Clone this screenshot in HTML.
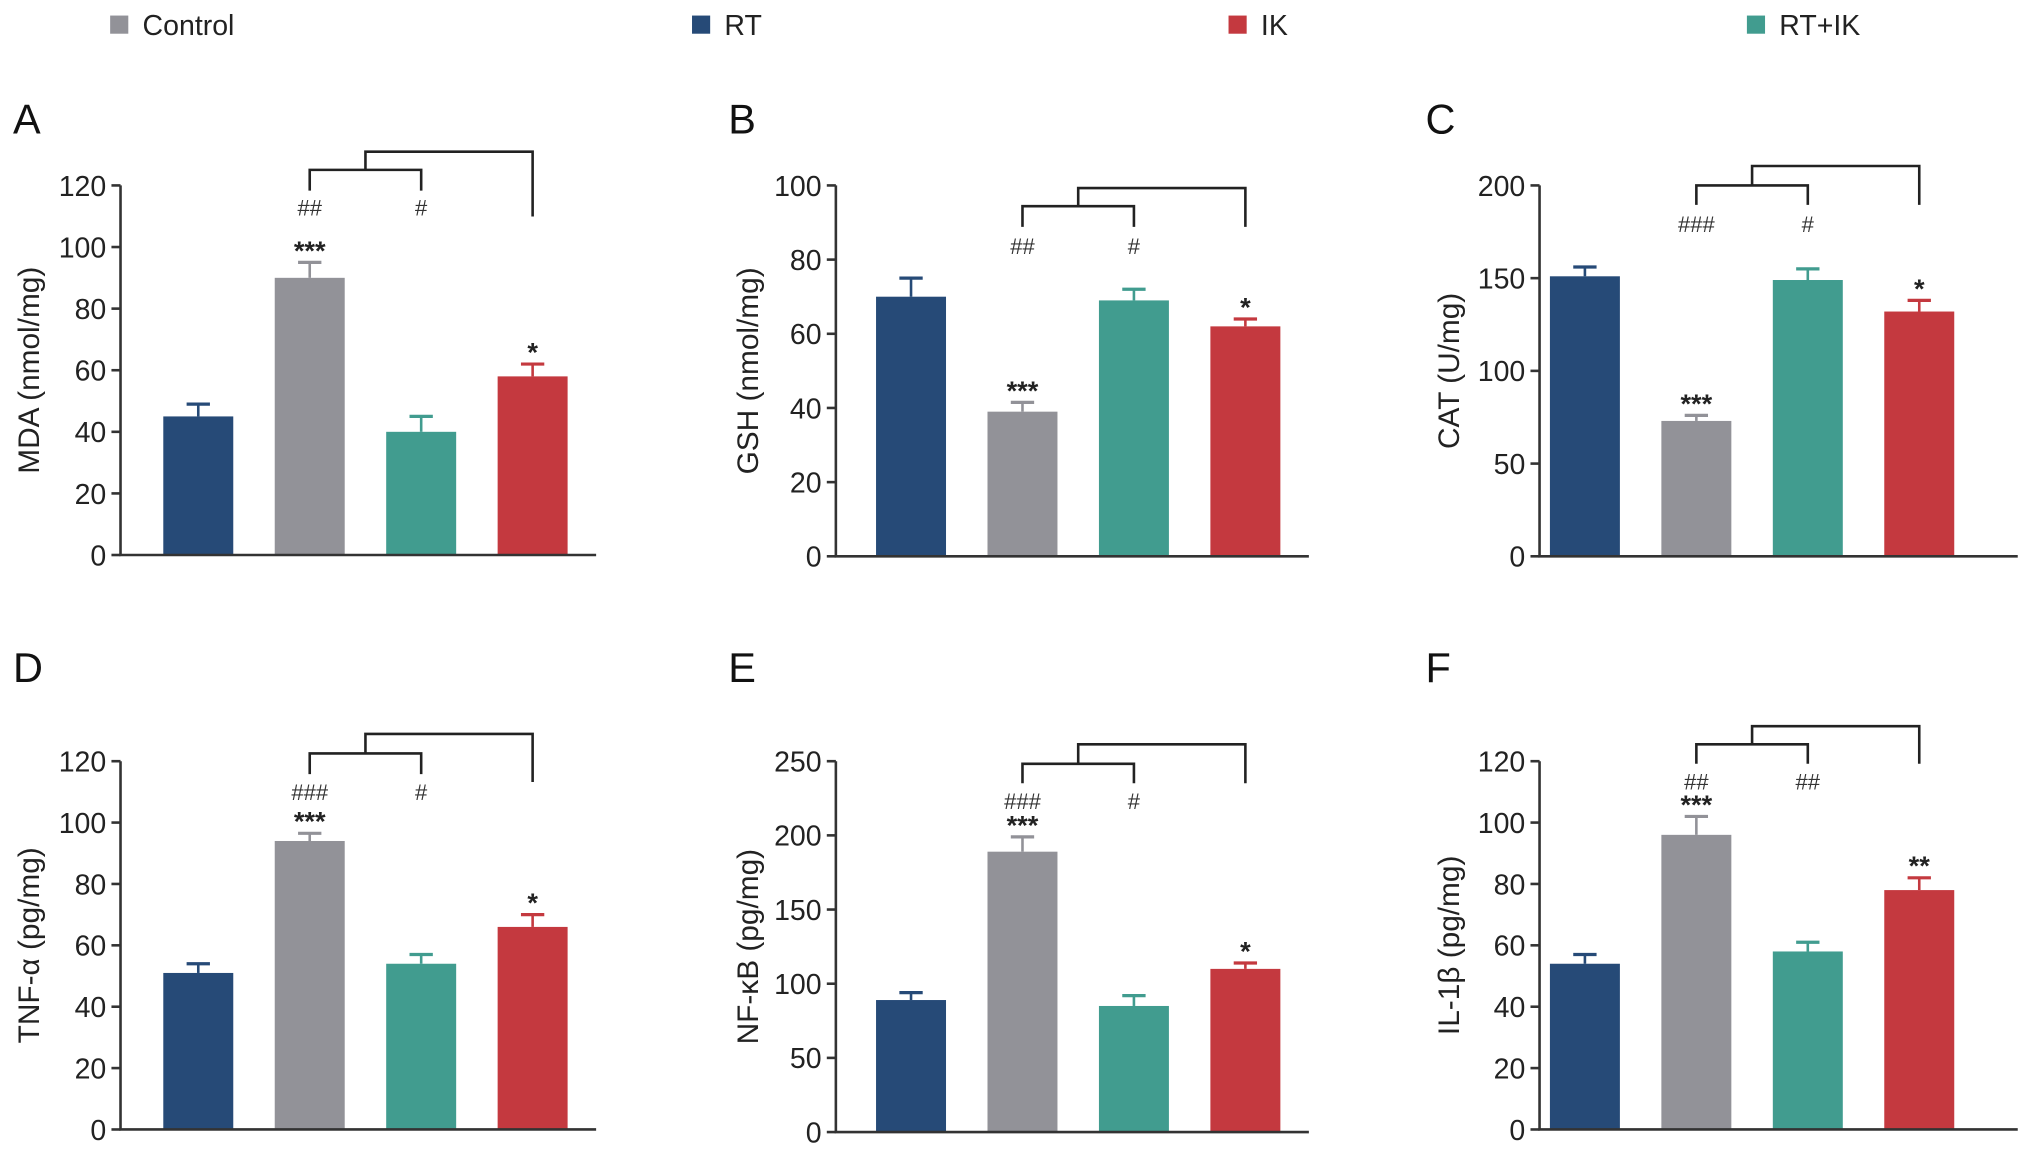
<!DOCTYPE html>
<html><head><meta charset="utf-8"><style>
html,body{margin:0;padding:0;background:#fff;}
svg{display:block;font-family:"Liberation Sans",sans-serif;}
</style></head><body>
<svg id="chart" width="2032" height="1158" viewBox="0 0 1568 893" preserveAspectRatio="none"></svg>
<script>
const groups = ["RT","Control","RT+IK","IK"];
const colors = ["#264a77","#929298","#419c8f","#c4393f"];
const legendLabels = ["Control","RT","IK","RT+IK"];
const legendColors = ["#929298","#264a77","#c4393f","#419c8f"];
const panelLetters = ["A","B","C","D","E","F"];
const yTitles = ["MDA (nmol/mg)","GSH (nmol/mg)","CAT (U/mg)","TNF-\u03b1 (pg/mg)","NF-\u03baB (pg/mg)","IL-1\u03b2 (pg/mg)"];
const yMax = [120,100,200,120,250,120];
const yStep = [20,20,50,20,50,20];
const valA = [45,90,40,58];   const errA = [49,95,45,62];
const valB = [70,39,69,62];   const errB = [75,41.5,72,64];
const valC = [151,73,149,132]; const errC = [156,76,155,138];
const valD = [51,94,54,66];   const errD = [54,96.5,57,70];
const valE = [89,189,85,110]; const errE = [94,199,92,114];
const valF = [54,96,58,78];   const errF = [57,102,61,82];
const starsA = ["","***","","*"]; const hashA = ["","##","#",""];
const starsB = ["","***","","*"]; const hashB = ["","##","#",""];
const starsC = ["","***","","*"]; const hashC = ["","###","#",""];
const starsD = ["","***","","*"]; const hashD = ["","###","#",""];
const starsE = ["","***","","*"]; const hashE = ["","###","#",""];
const starsF = ["","***","","**"]; const hashF = ["","##","##",""];

const vals=[valA,valB,valC,valD,valE,valF], errs=[errA,errB,errC,errD,errE,errF];
const stars=[starsA,starsB,starsC,starsD,starsE,starsF], hashes=[hashA,hashB,hashC,hashD,hashE,hashF];
const layout=[
 {ax:93,bx:126,top:143,bot:428,xend:460,lx:10,ly:103,tx:22,brS:131,brM:117,legS:147,legM:167,hy:166},
 {ax:645,bx:676,top:143,bot:429,xend:1010,lx:562,ly:103,tx:577,brS:159,brM:145,legS:175,legM:175,hy:196},
 {ax:1188,bx:1196,top:143,bot:429,xend:1557,lx:1100,ly:103,tx:1118,brS:143,brM:128,legS:158,legM:158,hy:179},
 {ax:93,bx:126,top:587,bot:871,xend:460,lx:10,ly:526,tx:22,brS:581,brM:566,legS:597,legM:603,hy:617},
 {ax:645,bx:676,top:587,bot:873,xend:1010,lx:562,ly:526,tx:577,brS:589,brM:574,legS:604,legM:604,hy:624},
 {ax:1188,bx:1196,top:587,bot:871,xend:1557,lx:1100,ly:526,tx:1118,brS:574,brM:560,legS:589,legM:589,hy:609}
];
const NS="http://www.w3.org/2000/svg";
const svg=document.getElementById('chart');
function mk(tag,attrs,parent,text){const e=document.createElementNS(NS,tag);for(const k in attrs)e.setAttribute(k,attrs[k]);if(text!==undefined)e.textContent=text;(parent||svg).appendChild(e);return e;}

const legendX=[85,534,948,1348];
legendLabels.forEach((l,i)=>{
  const g=mk('g',{});
  
  
  mk('rect',{x:legendX[i],y:12,width:14,height:14,fill:legendColors[i]},g);
  mk('text',{x:legendX[i]+25,y:27,'font-size':22,fill:'#222'},g,l);
});

layout.forEach((L,p)=>{
  const g=mk('g',{});
  
  
  const y=v=>L.bot-(v/yMax[p])*(L.bot-L.top);
  const bw=54, gap=86;
  const bxf=i=>L.bx+i*gap;
  const lt=mk('text',{x:L.lx,y:L.ly,'font-size':32,fill:'#111'},g,panelLetters[p]);
  
  
  vals[p].forEach((v,i)=>{
    const cx=bxf(i)+bw/2;
    const e=errs[p][i];
    mk('line',{x1:cx,x2:cx,y1:y(v),y2:y(e),stroke:colors[i],'stroke-width':2},g);
    mk('line',{x1:cx-9,x2:cx+9,y1:y(e),y2:y(e),stroke:colors[i],'stroke-width':2.5},g);
    const r=mk('rect',{x:bxf(i),y:y(v),width:bw,height:L.bot-y(v),fill:colors[i]},g);
    
    
    if(stars[p][i]) mk('text',{x:cx,y:y(e)-2,'font-size':21,'font-weight':'bold','text-anchor':'middle',fill:'#222'},g,stars[p][i]);
    if(hashes[p][i]) mk('text',{x:cx,y:L.hy,'font-size':17,'text-anchor':'middle',fill:'#333'},g,hashes[p][i]);
  });
  mk('line',{x1:L.ax,x2:L.ax,y1:L.top,y2:L.bot,stroke:'#333','stroke-width':2},g);
  mk('line',{x1:L.ax-1,x2:L.xend,y1:L.bot,y2:L.bot,stroke:'#333','stroke-width':2},g);
  for(let t=0;t<=yMax[p];t+=yStep[p]){
    mk('line',{x1:L.ax-7,x2:L.ax,y1:y(t),y2:y(t),stroke:'#333','stroke-width':2},g);
    mk('text',{x:L.ax-11,y:y(t)+8,'font-size':22,'text-anchor':'end',fill:'#222'},g,String(t));
  }
  const yt=mk('text',{x:L.tx,y:(L.top+L.bot)/2,'font-size':23,'text-anchor':'middle',fill:'#222',transform:`rotate(-90 ${L.tx} ${(L.top+L.bot)/2}) translate(0 8)`},g,yTitles[p]);
  
  
  const c1=bxf(1)+bw/2,c2=bxf(2)+bw/2,c3=bxf(3)+bw/2,mid=(c1+c2)/2;
  mk('path',{d:`M${c1},${L.legS} V${L.brS} H${c2} V${L.legS}`,fill:'none',stroke:'#222','stroke-width':2},g);
  mk('path',{d:`M${mid},${L.brS} V${L.brM} H${c3} V${L.legM}`,fill:'none',stroke:'#222','stroke-width':2},g);
});
</script>
</body></html>
